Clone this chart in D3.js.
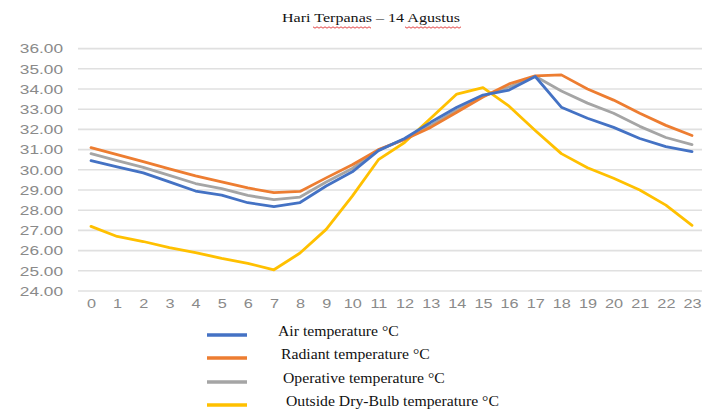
<!DOCTYPE html>
<html><head><meta charset="utf-8">
<script src="https://cdn.jsdelivr.net/npm/d3@7"></script>
<style>body{margin:0;background:#fff}svg{display:block}</style>
</head><body><svg id="c" width="702" height="414"></svg>
<script>
const hours = d3.range(0, 24);
const xTickLabels = hours.map(String);
const yTickValues = [24,25,26,27,28,29,30,31,32,33,34,35,36];
const titleText = "Hari Terpanas \u2013 14 Agustus";
const seriesNames = ["Air temperature \u00B0C","Radiant temperature \u00B0C","Operative temperature \u00B0C","Outside Dry-Bulb temperature \u00B0C"];
const seriesColors = ["#4472C4","#ED7D31","#A5A5A5","#FFC000"];
const airTemp =      [30.45,30.15,29.85,29.4,28.95,28.75,28.37,28.18,28.38,29.2,29.9,30.95,31.55,32.35,33.1,33.7,33.95,34.62,33.1,32.55,32.1,31.55,31.15,30.9];
const radiantTemp =  [31.1,30.75,30.4,30.05,29.7,29.4,29.1,28.87,28.93,29.6,30.25,31.0,31.5,32.1,32.85,33.6,34.25,34.65,34.7,34.0,33.45,32.8,32.2,31.7];
const operativeTemp =[30.8,30.45,30.12,29.72,29.32,29.07,28.73,28.52,28.65,29.4,30.07,30.98,31.52,32.2,32.95,33.65,34.1,34.63,33.9,33.3,32.8,32.15,31.6,31.25];
const outsideTemp =  [27.2,26.7,26.45,26.15,25.9,25.62,25.37,25.05,25.88,27.05,28.7,30.5,31.35,32.55,33.75,34.07,33.15,31.95,30.8,30.1,29.58,29.0,28.25,27.25];
const allSeries = [airTemp, radiantTemp, operativeTemp, outsideTemp];

const svg = d3.select("#c");
const x = d3.scaleLinear().domain([0,23]).range([91,692]);
const y = d3.scaleLinear().domain([24,36]).range([291,48.6]);

function stretch(sel, f){ sel.each(function(){ const l=this.getComputedTextLength(); d3.select(this).attr("textLength", l*f).attr("lengthAdjust","spacingAndGlyphs"); }); }

// gridlines
svg.append("g").selectAll("line").data(yTickValues).join("line")
  .attr("x1",78).attr("x2",702).attr("y1",d=>y(d)).attr("y2",d=>y(d))
  .attr("stroke","#e0e0e0").attr("stroke-width",1.6);

// y axis labels
const yAxis = d3.axisLeft(y).tickValues(yTickValues).tickFormat(d3.format(".2f")).tickSize(0).tickPadding(0);
const gy = svg.append("g").attr("transform","translate(63,0)").call(yAxis);
gy.select(".domain").remove();
gy.selectAll("text").attr("font-family","Arial, Liberation Sans, sans-serif").attr("font-size",12.5).attr("fill","#8a8a8a").attr("dy","0.34em");
stretch(gy.selectAll("text"),1.38);

// x axis labels
const xAxis = d3.axisBottom(x).tickValues(hours).tickFormat((d,i)=>xTickLabels[i]).tickSize(0).tickPadding(0);
const gx = svg.append("g").attr("transform","translate(0,300)").call(xAxis);
gx.select(".domain").remove();
gx.selectAll("text").attr("font-family","Arial, Liberation Sans, sans-serif").attr("font-size",12.5).attr("fill","#8a8a8a").attr("dy","0.6em");
stretch(gx.selectAll("text"),1.3);

// lines
const line = d3.line().x((d,i)=>x(hours[i])).y(d=>y(d));
[3,2,1,0].forEach(k=>{
  svg.append("path").datum(allSeries[k]).attr("d",line).attr("fill","none")
    .attr("stroke",seriesColors[k]).attr("stroke-width",2.8).attr("stroke-linejoin","round").attr("stroke-linecap","round");
});

// title
const t = svg.append("text").attr("x",282).attr("y",22).attr("font-family","Times New Roman, Liberation Serif, serif")
  .attr("font-size",13.5).attr("fill","#111").text(titleText);
stretch(t,1.19);
// spellcheck squiggles under "Terpanas" and "Agustus"
function squiggle(x0,x1,yy){
  const pts=[]; for(let xx=x0, i=0; xx<=x1; xx+=2, i++) pts.push([xx, yy + (i%2?1.2:-0.2)]);
  svg.append("path").attr("d",d3.line()(pts)).attr("fill","none").attr("stroke","#e03030").attr("stroke-width",0.9);
}
squiggle(313,372,27);
squiggle(405,461,27);

// legend
const lgY = [335,358,382,405];
const lgTX = [278,281,283,286];
const lg = svg.append("g");
seriesNames.forEach((n,i)=>{
  lg.append("line").attr("x1",207).attr("x2",247).attr("y1",lgY[i]).attr("y2",lgY[i])
    .attr("stroke",seriesColors[i]).attr("stroke-width",3.5);
  const tt = lg.append("text").attr("x",lgTX[i]).attr("y",lgY[i]+1).attr("font-family","Times New Roman, Liberation Serif, serif")
    .attr("font-size",13.8).attr("fill","#111").text(n);
  stretch(tt,1.14);
});
</script></body></html>
